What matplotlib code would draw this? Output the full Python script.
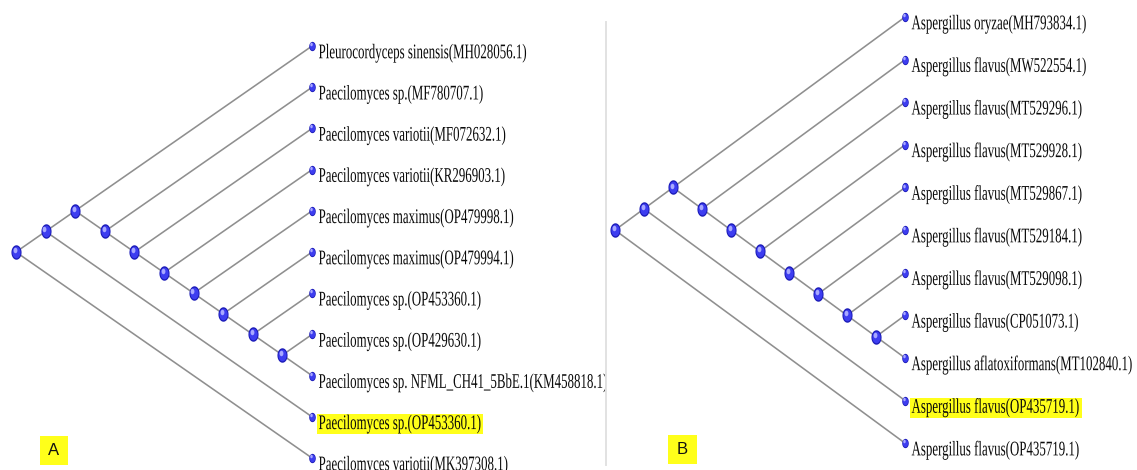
import matplotlib
matplotlib.use("Agg")
import matplotlib.pyplot as plt
from matplotlib.path import Path
from matplotlib.markers import MarkerStyle
from matplotlib.patches import Rectangle
from matplotlib.lines import Line2D
from matplotlib.text import Text
from matplotlib.patheffects import AbstractPathEffect
from matplotlib.transforms import Affine2D, Bbox, offset_copy, ScaledTranslation
import numpy as np

# ---- data -----------------------------------------------------------------
taxa_a = [
    "Pleurocordyceps sinensis(MH028056.1)",
    "Paecilomyces sp.(MF780707.1)",
    "Paecilomyces variotii(MF072632.1)",
    "Paecilomyces variotii(KR296903.1)",
    "Paecilomyces maximus(OP479998.1)",
    "Paecilomyces maximus(OP479994.1)",
    "Paecilomyces sp.(OP453360.1)",
    "Paecilomyces sp.(OP429630.1)",
    "Paecilomyces sp. NFML_CH41_5BbE.1(KM458818.1)",
    "Paecilomyces sp.(OP453360.1)",
    "Paecilomyces variotii(MK397308.1)",
]
taxa_b = [
    "Aspergillus oryzae(MH793834.1)",
    "Aspergillus flavus(MW522554.1)",
    "Aspergillus flavus(MT529296.1)",
    "Aspergillus flavus(MT529928.1)",
    "Aspergillus flavus(MT529867.1)",
    "Aspergillus flavus(MT529184.1)",
    "Aspergillus flavus(MT529098.1)",
    "Aspergillus flavus(CP051073.1)",
    "Aspergillus aflatoxiformans(MT102840.1)",
    "Aspergillus flavus(OP435719.1)",
    "Aspergillus flavus(OP435719.1)",
]
# Tree topologies; integers are row indices into the taxa lists
topology_a = (((0, (1, (2, (3, (4, (5, (6, (7, 8)))))))), 9), 10)
topology_b = (((0, (1, (2, (3, (4, (5, (6, (7, 8)))))))), 9), 10)
# Query isolate in each tree (highlighted label)
query_a = 9
query_b = 9
panel_labels = ["A", "B"]

# ---- styling --------------------------------------------------------------
W, H = 1137, 470
SPLIT = 606
LINE_COLOR = "#8f8f8f"
HIGHLIGHT = "#ffff1a"
SX = 0.62            # horizontal condensing of the leaf labels
LABEL_SIZE = 15


class Condensed(AbstractPathEffect):
    """Squeeze glyph outlines horizontally, keeping the left edge fixed."""

    def __init__(self, factor):
        super().__init__()
        self._factor = factor

    def draw_path(self, renderer, gc, tpath, affine, rgbFace=None):
        renderer.draw_path(gc, tpath, Affine2D().scale(self._factor, 1.0) + affine, rgbFace)


class CondensedText(Text):
    """Left-aligned text drawn condensed; reports its condensed extent."""

    def __init__(self, *args, factor=1.0, **kwargs):
        super().__init__(*args, **kwargs)
        self._factor = factor
        self.set_path_effects([Condensed(factor)])

    def get_window_extent(self, renderer=None, dpi=None):
        bb = super().get_window_extent(renderer, dpi)
        return Bbox.from_extents(bb.x0, bb.y0, bb.x0 + bb.width * self._factor, bb.y1)


def layout(node, nodes, edges):
    """Slanted cladogram: leaves at x=0, a clade spanning k rows sits at x=-k."""
    if isinstance(node, int):
        return (0.0, float(node), node, node)
    kids = [layout(c, nodes, edges) for c in node]
    lo = min(k[2] for k in kids)
    hi = max(k[3] for k in kids)
    x, y = -float(hi - lo), (lo + hi) / 2.0
    for k in kids:
        edges.append(((x, k[0]), (y, k[1])))
    nodes.append((x, y))
    return (x, y, lo, hi)


theta = np.linspace(0, 2 * np.pi, 60)
oval = MarkerStyle(Path(np.column_stack([0.70 * np.cos(theta), np.sin(theta)])))

fig = plt.figure(figsize=(W / 100, H / 100), dpi=100)
fig.patch.set_facecolor("white")

panels = [
    dict(taxa=taxa_a, topo=topology_a, query=query_a, label=panel_labels[0],
         rect=[0, 0, SPLIT / W, 1], xlim=(-10.54, 9.93), ylim=(10.29, -1.117),
         box=(40, 436, 28, 29)),
    dict(taxa=taxa_b, topo=topology_b, query=query_b, label=panel_labels[1],
         rect=[SPLIT / W, 0, (W - SPLIT) / W, 1], xlim=(-10.31, 8.0), ylim=(10.63, -0.40),
         box=(668, 435, 29, 29)),
]

queries = []
for p in panels:
    ax = fig.add_axes(p["rect"])
    ax.set_xlim(*p["xlim"])
    ax.set_ylim(*p["ylim"])
    ax.axis("off")

    nodes, edges = [], []
    layout(p["topo"], nodes, edges)
    for xs, ys in edges:
        ax.plot(xs, ys, color=LINE_COLOR, lw=1.15, zorder=1, solid_capstyle="round")

    leaf_x = np.zeros(len(p["taxa"]))
    leaf_y = np.arange(len(p["taxa"]), dtype=float)
    node_x = np.array([n[0] for n in nodes])
    node_y = np.array([n[1] for n in nodes])

    shine = ax.transData + ScaledTranslation(-0.9 / 72, 1.4 / 72, fig.dpi_scale_trans)
    for xs, ys, ms in [(node_x, node_y, 10.4), (leaf_x, leaf_y, 6.7)]:
        ax.plot(xs, ys, ls="none", marker=oval, ms=ms, mfc="#1c1cb8", mec="none", zorder=4)
        ax.plot(xs, ys, ls="none", marker=oval, ms=ms * 0.8, mfc="#3d3df0", mec="none", zorder=5)
        ax.plot(xs, ys, ls="none", marker=oval, ms=ms * 0.38, mfc="#a8a8ff", mec="none",
                zorder=6, transform=shine)

    tr = offset_copy(ax.transData, fig=fig, x=4.7, y=-8.8, units="points")
    for i, name in enumerate(p["taxa"]):
        t = CondensedText(leaf_x[i], leaf_y[i], name, factor=SX, ha="left", va="baseline",
                          fontsize=LABEL_SIZE, family="Liberation Serif", color="#0a0a0a",
                          zorder=3)
        ax.add_artist(t)
        t.set_transform(tr)
        t.set_clip_on(True)
        if i == p["query"]:
            queries.append((ax, t))

    # panel tag
    bx, by, bw, bh = p["box"]
    x0 = (bx - p["rect"][0] * W) / (p["rect"][2] * W)
    y0 = 1 - (by + bh) / H
    ax.add_patch(Rectangle((x0, y0), bw / (p["rect"][2] * W), bh / H,
                           transform=ax.transAxes, facecolor=HIGHLIGHT, edgecolor="none",
                           zorder=2, clip_on=False))
    ax.text(x0 + bw / (p["rect"][2] * W) / 2, y0 + bh / H / 2, p["label"],
            transform=ax.transAxes, ha="center", va="center", fontsize=12,
            family="Liberation Sans", color="#111111", zorder=3)

# divider between the two trees
fig.add_artist(Line2D([SPLIT / W, SPLIT / W], [1 - 22 / H, 1 - 465 / H],
                      transform=fig.transFigure, color="#e2e2e2", lw=1.4))

# yellow marker behind the query labels, sized from the condensed text
fig.canvas.draw()
renderer = fig.canvas.get_renderer()
for ax, t in queries:
    ext = t.get_window_extent(renderer)
    x0, x1 = ext.x0 - 2, ext.x1 + 2
    (dx0, dy0), (dx1, dy1) = ax.transData.inverted().transform([(x0, ext.y0), (x1, ext.y1)])
    ax.add_patch(Rectangle((dx0, dy0), dx1 - dx0, dy1 - dy0, facecolor=HIGHLIGHT,
                           edgecolor="none", zorder=2))

fig.savefig("out.png", dpi=100, facecolor="white")
